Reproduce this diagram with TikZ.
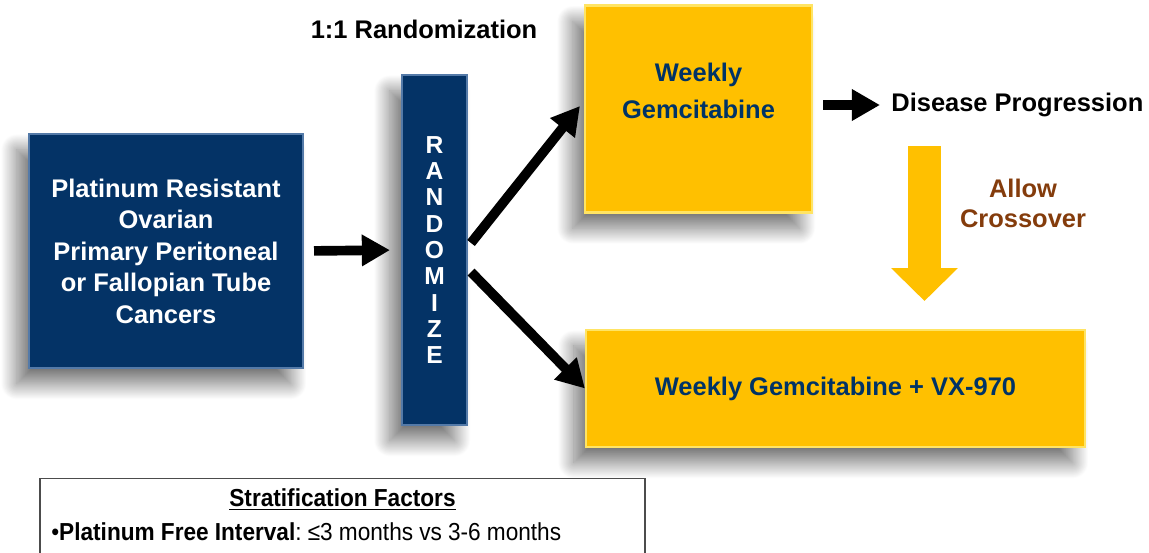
\documentclass[tikz,border=0pt]{standalone}
\usepackage{fontspec}
\setmainfont{Liberation Sans}
\newfontfamily\narrowfont[FakeStretch=0.92]{Liberation Sans}
\usetikzlibrary{arrows.meta,shadows.blur}

\definecolor{navy}{RGB}{4,51,102}
\definecolor{navyedge}{RGB}{84,122,168}
\definecolor{navytext}{RGB}{0,51,102}
\definecolor{gold}{RGB}{255,192,0}
\definecolor{goldedge}{RGB}{255,228,100}
\definecolor{rust}{RGB}{132,60,12}

\begin{document}
\begin{tikzpicture}[x=0.02cm, y=-0.02cm,
  dropshadow/.style={blur shadow={shadow xshift=-7pt, shadow yshift=-9pt,
      shadow blur radius=9pt, shadow blur steps=40, shadow opacity=55}},
  big/.style={font=\fontsize{14.5}{16.7}\selectfont\bfseries},
  bluebox/.style={rectangle, fill=navy, draw=navyedge, line width=1.2pt,
      text=white, align=center, inner sep=0pt, dropshadow},
  goldbox/.style={rectangle, fill=gold, draw=goldedge, line width=1.2pt,
      text=navytext, align=center, inner sep=0pt, dropshadow},
  stratbox/.style={rectangle, draw=black!70, line width=0.8pt, fill=white,
      anchor=north, inner xsep=6.5pt, inner ysep=5.5pt, text width=11.65cm,
      align=left, text depth=1.4cm, font=\narrowfont\fontsize{14}{19.5}\selectfont},
  bigarrow/.style={line width=5.5pt, -{Triangle[length=16pt,width=17pt]}},
  xarrow/.style={draw=gold, line width=18.7pt, -{Triangle[length=18.7pt,width=36.8pt]}}]
  \useasboundingbox (0,0) rectangle (1149,552);
  \clip (0,0) rectangle (1149,552);

  \node[bluebox, minimum width=5.48cm, minimum height=4.68cm,
        font=\fontsize{14.5}{17.9}\selectfont\bfseries] (pop) at (166,251)
    {Platinum Resistant\\Ovarian\\Primary Peritoneal\\or Fallopian Tube\\Cancers};
  \node[bluebox, minimum width=1.3cm, minimum height=7cm,
        font=\fontsize{14}{15}\selectfont\bfseries] (rand) at (434.5,250)
    {R\\A\\N\\D\\O\\M\\I\\Z\\E};
  \node[goldbox, minimum width=4.54cm, minimum height=4.14cm,
        font=\fontsize{14.5}{21}\selectfont\bfseries] (gem) at (698.5,109)
    {Weekly\\Gemcitabine\\\mbox{}};
  \node[goldbox, big, minimum width=9.98cm, minimum height=2.34cm] (combo) at (835.5,388.5)
    {Weekly Gemcitabine + VX-970};

  \node[big, inner sep=0pt] (title) at (424,29) {1:1 Randomization};
  \node[big, inner sep=0pt, anchor=west] (prog) at (891,105) {Disease Progression};
  \node[text=rust, align=center, inner sep=0pt,
        font=\fontsize{14.5}{17}\selectfont\bfseries] (xtxt) at (1023,203) {Allow\\Crossover};

  \node[stratbox] (strat) at (342.5,478)
    {\frenchspacing\spaceskip=0.25em plus 0.1em\relax
     \makebox[\hsize][c]{\textbf{\underline{Stratification Factors}}}\\
     •\textbf{Platinum Free Interval}: ≤3 months vs 3-6 months};

  \coordinate (xs) at (924.5,146);
  \coordinate (xe) at (924.5,301);

  % arms
  \draw[bigarrow, shorten <=0.2cm, shorten >=0.22cm] (pop.east) -- (rand.west);
  \draw[bigarrow] ([shift={(3,-7)}]rand.east) -- ([shift={(-4,-3)}]gem.west);
  \draw[bigarrow] ([shift={(3,22)}]rand.east) -- (combo.west);
  \draw[bigarrow, shorten <=0.2cm, shorten >=0.22cm] (prog.west -| gem.east) -- (prog.west);
  \draw[xarrow] (xs) -- (xe);
\end{tikzpicture}
\end{document}
